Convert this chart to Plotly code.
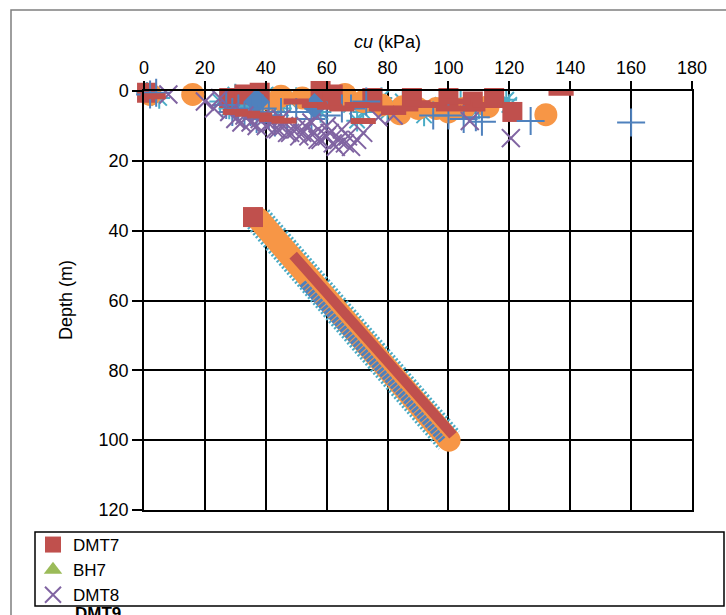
import plotly.graph_objects as go

# ---------------- data (cu in kPa, depth in m) ----------------
DMT7_CU = [1, 28, 33, 38, 58, 62, 75, 88, 100, 108, 115, 121, 35.8]
DMT7_DEPTH = [0.5, 2, 1, 0.5, 0, 1, 2, 2, 2, 3, 2, 6, 36.1]

BH7_CU = [46, 86]
BH7_DEPTH = [1.5, 4.5]

DMT8_CU = [8, 20, 23, 25, 28, 30, 33, 35, 38, 40, 42, 44, 46, 48, 50, 52, 54, 56, 58,
           60, 62, 64, 66, 68, 70, 72, 55, 65, 60, 77, 82, 107, 120.5,
           32, 37, 43, 47, 51, 57, 61, 63, 67, 53, 45]
DMT8_DEPTH = [1, 3, 5, 2, 6, 8, 7, 9, 8, 10, 9, 11, 10, 12, 11, 12, 13, 12, 14,
              13, 15, 14, 15, 16, 14, 12, 9, 11, 10, 7.5, 7, 8.6, 13.5,
              9, 10, 11, 12, 13, 14, 12, 16, 13, 10, 8]

DMT9_CU = [1, 5, 25, 30, 35, 40, 45, 50, 55, 62, 68, 70, 72, 78, 80, 85, 92, 98, 104, 110, 119, 120,
           28, 33, 38, 58, 30, 32, 34, 36, 42, 44, 48]
DMT9_DEPTH = [0.5, 2, 3, 1, 2, 1, 5, 2, 3, 2, 4, 8.5, 6, 2, 6, 3, 7, 4, 3, 5, 2.5, 4,
              5, 4, 6, 6, 3, 2, 4, 1, 2, 4, 3]

CIRCLE_CU = [2, 16, 45, 52, 60, 66, 72, 78, 84, 85, 90, 96, 100, 105, 113, 132]
CIRCLE_DEPTH = [1, 1, 1.5, 2, 1.5, 1, 3, 4, 6.5, 4.5, 5, 5, 6, 5, 4.5, 6.8]

TRIANGLE_CU = [41]
TRIANGLE_DEPTH = [3.7]

DIAMOND_CU = [37, 56]
DIAMOND_DEPTH = [3, 4.3]

PLUS_CU = [2, 4, 27, 29, 31, 33, 35, 37, 39, 41, 43, 45, 47, 50, 55, 60, 65, 68, 73,
           95, 100, 105, 109, 111, 127, 160]
PLUS_DEPTH = [1, 0.5, 4, 6, 5, 7, 6, 8, 5, 7, 9, 6, 8, 6, 8, 7, 5, 5, 3,
              7, 7, 8, 7.5, 8.8, 8.6, 9]

DASH_CU = [3, 30, 34, 38, 42, 46, 50, 56, 61, 65, 70, 72, 78, 82, 86, 90, 95, 100, 103, 108, 112, 137]
DASH_DEPTH = [1.5, 6, 6.5, 7, 8, 8.5, 3, 4, 4.5, 5, 4, 8.6, 5, 6, 5, 3.5, 4, 5, 3, 5, 4, 0.5]

# trend bands (end points)
BAND_CU = [37.5, 100.2]
BAND_DEPTH = [36.6, 100]
RED_BAND_CU = [49, 101.5]
RED_BAND_DEPTH = [47, 98.6]
BLUE_BAND_CU = [52, 98]
BLUE_BAND_DEPTH = [55, 100]

X_TICKS = [0, 20, 40, 60, 80, 100, 120, 140, 160, 180]
Y_TICKS = [0, 20, 40, 60, 80, 100, 120]

RED = "#C0504D"
GREEN = "#9BBB59"
PURPLE = "#8064A2"
AQUA = "#4BACC6"
ORANGE = "#F79646"
BLUE = "#4F81BD"
FONT = "Liberation Sans, Arial, sans-serif"

fig = go.Figure()

# bands
fig.add_trace(go.Scatter(x=BAND_CU, y=BAND_DEPTH, mode="lines", showlegend=False,
                         line=dict(color=AQUA, width=29, dash="2px,2px"), hoverinfo="skip"))
fig.add_trace(go.Scatter(x=BAND_CU, y=BAND_DEPTH, mode="lines+markers", showlegend=False,
                         line=dict(color=ORANGE, width=23),
                         marker=dict(symbol="circle", size=23, color=ORANGE), hoverinfo="skip"))
fig.add_trace(go.Scatter(x=RED_BAND_CU, y=RED_BAND_DEPTH, mode="lines", showlegend=False,
                         line=dict(color=RED, width=10), hoverinfo="skip"))
fig.add_trace(go.Scatter(x=BLUE_BAND_CU, y=BLUE_BAND_DEPTH, mode="lines", showlegend=False,
                         line=dict(color=BLUE, width=8, dash="3px,1px"), hoverinfo="skip"))

# cluster series
fig.add_trace(go.Scatter(x=DMT9_CU, y=DMT9_DEPTH, mode="markers", name="DMT9", showlegend=False,
                         marker=dict(symbol="asterisk-open", size=18, color=AQUA, line=dict(width=2)),
                         cliponaxis=False))
fig.add_trace(go.Scatter(x=BH7_CU, y=BH7_DEPTH, mode="markers", name="BH7", legendrank=2,
                         marker=dict(symbol="triangle-up", size=18, color=GREEN), cliponaxis=False))
fig.add_trace(go.Scatter(x=CIRCLE_CU, y=CIRCLE_DEPTH, mode="markers", showlegend=False,
                         marker=dict(symbol="circle", size=23, color=ORANGE), cliponaxis=False))
fig.add_trace(go.Scatter(x=TRIANGLE_CU, y=TRIANGLE_DEPTH, mode="markers", showlegend=False,
                         marker=dict(symbol="triangle-up", size=26, color=ORANGE), cliponaxis=False))
fig.add_trace(go.Scatter(x=DMT7_CU, y=DMT7_DEPTH, mode="markers", name="DMT7", legendrank=1,
                         marker=dict(symbol="square", size=20, color=RED), cliponaxis=False))
fig.add_trace(go.Scatter(x=DIAMOND_CU, y=DIAMOND_DEPTH, mode="markers", showlegend=False,
                         marker=dict(symbol="diamond", size=20, color=BLUE), cliponaxis=False))
fig.add_trace(go.Scatter(x=PLUS_CU, y=PLUS_DEPTH, mode="markers", showlegend=False,
                         marker=dict(symbol="cross-thin-open", size=20, color=BLUE, line=dict(width=2)),
                         cliponaxis=False))
fig.add_trace(go.Scatter(x=DMT8_CU, y=DMT8_DEPTH, mode="markers", name="DMT8", legendrank=3,
                         marker=dict(symbol="x-thin-open", size=18, color=PURPLE, line=dict(width=2)),
                         cliponaxis=False))
fig.add_trace(go.Scatter(x=DASH_CU, y=DASH_DEPTH, mode="markers", showlegend=False,
                         marker=dict(symbol="line-ew-open", size=18, color=RED, line=dict(width=6)),
                         cliponaxis=False))

W, H = 726, 615
L, R, T, B = 144, 34, 91, 105
pw, ph = W - L - R, H - T - B


def px(xp):
    return (xp - L) / pw


def py(yp):
    return (H - B - yp) / ph


fig.update_layout(
    width=W, height=H,
    margin=dict(l=L, r=R, t=T, b=B, pad=0, autoexpand=False),
    paper_bgcolor="white", plot_bgcolor="white",
    font=dict(family=FONT, size=18, color="black"),
    showlegend=True,
    legend=dict(xref="container", yref="container", x=33 / W, y=1 - 527 / H,
                xanchor="left", yanchor="top",
                bgcolor="rgba(0,0,0,0)", borderwidth=0,
                font=dict(family=FONT, size=17, color="black"),
                tracegroupgap=0, itemsizing="trace"),
    xaxis=dict(side="top", range=[0, 180], tickvals=X_TICKS, showgrid=True,
               gridcolor="black", gridwidth=1.5, showline=True, linecolor="black",
               linewidth=1.5, mirror=True, ticks="outside", ticklen=8, tickcolor="black",
               tickwidth=1.5, tickfont=dict(size=18), zeroline=False),
    yaxis=dict(range=[120, 0], tickvals=Y_TICKS, showgrid=True,
               gridcolor="black", gridwidth=1.5, showline=True, linecolor="black",
               linewidth=1.5, mirror=True, ticks="outside", ticklen=10, tickcolor="black",
               tickwidth=1.5, tickfont=dict(size=18), zeroline=False),
    shapes=[
        dict(type="rect", xref="paper", yref="paper", x0=px(11), x1=px(740),
             y0=py(630), y1=py(10), line=dict(color="#7f7f7f", width=1.5), layer="below"),
        dict(type="rect", xref="paper", yref="paper", x0=px(35), x1=px(724),
             y0=py(606), y1=py(532), line=dict(color="black", width=1.5), layer="above"),
    ],
    annotations=[
        dict(text="<i>cu</i> (kPa)", xref="paper", yref="paper", x=px(387), y=py(42),
             showarrow=False, font=dict(size=18), xanchor="center", yanchor="middle"),
        dict(text="Depth (m)", xref="paper", yref="paper", x=px(66), y=py(300),
             showarrow=False, textangle=-90, font=dict(size=18),
             xanchor="center", yanchor="middle"),
        dict(text="<b>DMT9</b>", xref="paper", yref="paper", x=px(73), y=py(613),
             showarrow=False, font=dict(size=17), xanchor="left", yanchor="middle"),
    ],
)

fig.write_html("out.html", config={"displayModeBar": False},
               post_script="document.body.style.margin='0';document.body.style.overflow='hidden';")
